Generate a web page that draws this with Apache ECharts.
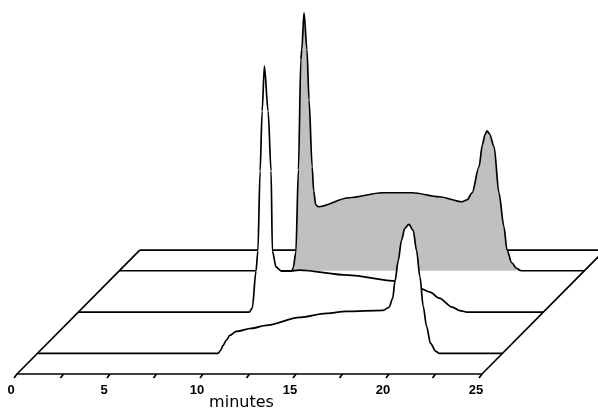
<!DOCTYPE html>
<html>
<head>
<meta charset="utf-8">
<script src="https://cdn.jsdelivr.net/npm/echarts@6/dist/echarts.min.js"></script>
<style>
  html, body { margin: 0; padding: 0; background: #fff; }
  #chart { width: 598px; height: 413px; }
</style>
</head>
<body>
<div id="chart"></div>
<script>
// ---- data ----
// retention time axis, minutes
const axisMin = 0;
const axisMax = 25;
const tickLabelStep = 5;
const minorTicks = [0, 2.5, 5, 7.5, 10, 12.5, 15, 17.5, 20, 22.5, 25];

// front chromatogram (detector signal, arbitrary units)
const frontTime   = [0, 9.6, 9.71, 9.85, 9.98, 10.15, 10.34, 10.7, 11.5, 12.3, 14.1, 15.54, 16.6, 18.58, 18.9, 19.1, 19.22, 19.4, 19.57, 19.75, 19.97, 20.2, 20.38, 20.56, 20.74, 20.92, 21.13, 21.42, 21.6, 25];
const frontSignal = [0, 0,   0,    3,    8,    13,    18,    22,   25,   28,   36,   40,    42,   43,    46,   55,   72,    93,   113,   125,   129,   123,  103,   77,    47,    27,    10,    2,     0,    0];

// middle chromatogram
const middleTime   = [0, 9.1, 9.19, 9.35, 9.55, 9.65, 9.77, 9.88, 10.0, 10.2, 10.36, 10.43, 10.63, 10.91, 11.34, 11.88, 14.5, 17.1, 18.33, 18.9, 19.4, 20.1, 20.5, 20.86, 25];
const middleSignal = [0, 0,   0,    4,    41,   61,   141,  201,  246,  201,  141,   61,    45,    41,    41,    42,    37,   31,   24,    20,   14,   5,    1.5,  0,     0];

// back chromatogram (shaded)
const backTime   = [0, 9.2, 9.29, 9.35, 9.49, 9.63, 9.76, 9.81, 9.93, 10.09, 10.2, 10.37, 10.45, 10.56, 10.7, 12.35, 14.13, 15.75, 17.2, 18.43, 18.7, 18.97, 19.34, 19.52, 19.66, 19.77, 19.9, 20.15, 20.41, 20.68, 20.84, 21.1, 21.35, 21.6, 25];
const backSignal = [0, 0,   0,    3,    18,   101,  211,  221,  258,  221,   171,  104,   80,    66,    64,   73,    78,    78,    74,   69,    71,   78,    104,   126,   136,   140,   137,  124,   78,    44,    21,    8,    2.5,   0,    0];

// depth rows of the pseudo-3D box: front edge 0, traces at 0.5 / 1.5 / 2.5, back edge 3
const frontRow = 0.5;
const middleRow = 1.5;
const backRow = 2.5;
const boxDepth = 3;

// ---- layout / style ----
const rowDx = 2.2;    // minutes shift per depth row
const rowDy = 41.3;   // signal-unit shift per depth row
const yTop = 374;     // signal units spanned by the plot height
const pxPerMin = 18.6;
const plotLeft = 17;
const plotHeight = 374;
const canvasWidth = 598;
const viewMax = (canvasWidth - plotLeft) / pxPerMin;   // minutes visible up to the right edge
const strokeW = 1.7;

function shifted(times, values, row) {
  return times.map((t, i) => [t + row * rowDx, values[i] + row * rowDy]);
}

function traceSeries(times, values, row, fill, z) {
  return {
    type: 'line',
    xAxisIndex: 1,
    yAxisIndex: 1,
    data: shifted(times, values, row),
    smooth: 0.3,
    smoothMonotone: 'x',
    symbol: 'none',
    clip: false,
    z: z,
    silent: true,
    lineStyle: { color: '#000', width: strokeW },
    areaStyle: { color: fill, opacity: 1, origin: row * rowDy }
  };
}

function frameLine(points, z) {
  return {
    type: 'line',
    xAxisIndex: 1,
    yAxisIndex: 1,
    data: points,
    symbol: 'none',
    clip: false,
    z: z,
    silent: true,
    lineStyle: { color: '#000', width: strokeW }
  };
}

const chart = echarts.init(document.getElementById('chart'), null, { renderer: 'canvas' });

chart.setOption({
  animation: false,
  backgroundColor: '#fff',
  grid: [
    { left: plotLeft, top: 0, height: plotHeight, width: (axisMax - axisMin) * pxPerMin, containLabel: false, outerBoundsMode: 'none' },
    { left: plotLeft, top: 0, height: plotHeight, width: canvasWidth - plotLeft, containLabel: false, outerBoundsMode: 'none' }
  ],
  xAxis: [{
    type: 'value',
    gridIndex: 0,
    min: axisMin,
    max: axisMax,
    interval: tickLabelStep,
    splitLine: { show: false },
    axisTick: { show: false },
    axisLine: { show: true, lineStyle: { color: '#000', width: strokeW } },
    axisLabel: {
      color: '#000',
      fontFamily: 'Liberation Sans, Arial, sans-serif',
      fontWeight: 'bold',
      fontSize: 13,
      margin: 10,
      padding: [0, 12, 0, 0]
    },
    name: 'minutes',
    nameLocation: 'middle',
    nameGap: 21,
    nameMoveOverlap: false,
    nameTextStyle: {
      color: '#000',
      fontFamily: 'DejaVu Sans, sans-serif',
      fontSize: 16,
      padding: [0, 16, 0, 0]
    }
  }, {
    type: 'value',
    gridIndex: 1,
    min: axisMin,
    max: viewMax,
    show: false
  }],
  yAxis: [
    { type: 'value', gridIndex: 0, min: 0, max: yTop, show: false },
    { type: 'value', gridIndex: 1, min: 0, max: yTop, show: false }
  ],
  series: [
    // back edge and the two side edges of the box
    frameLine([[axisMin + boxDepth * rowDx, boxDepth * rowDy], [axisMax + boxDepth * rowDx, boxDepth * rowDy]], 1),
    frameLine([[axisMin, 0], [axisMin + boxDepth * rowDx, boxDepth * rowDy]], 1),
    frameLine([[axisMax, 0], [axisMax + boxDepth * rowDx, boxDepth * rowDy]], 1),
    traceSeries(backTime, backSignal, backRow, '#c0c0c0', 2),
    traceSeries(middleTime, middleSignal, middleRow, '#ffffff', 3),
    traceSeries(frontTime, frontSignal, frontRow, '#ffffff', 4),
    {
      type: 'custom',
      xAxisIndex: 0,
      yAxisIndex: 0,
      z: 5,
      silent: true,
      clip: false,
      data: minorTicks.map(t => [t, 0]),
      renderItem: function (params, api) {
        const p = api.coord([api.value(0), api.value(1)]);
        return {
          type: 'line',
          shape: { x1: p[0], y1: p[1], x2: p[0] - 3, y2: p[1] + 4 },
          style: { stroke: '#000', lineWidth: strokeW }
        };
      }
    }
  ]
});
</script>
</body>
</html>
